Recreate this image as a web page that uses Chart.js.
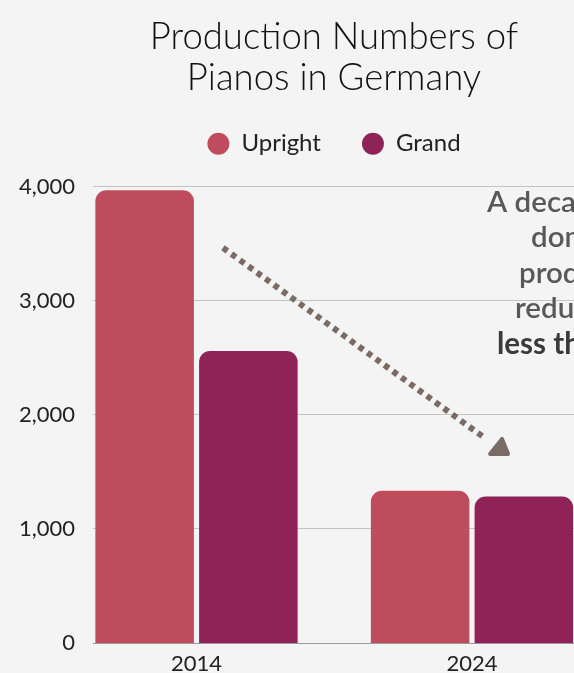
<!DOCTYPE html>
<html>
<head>
<meta charset="utf-8">
<script src="https://cdn.jsdelivr.net/npm/chart.js@4.4.1/dist/chart.umd.min.js"></script>
<style>
    html, body { margin: 0; padding: 0; background: #f4f4f4; overflow: hidden; }
    #wrap { width: 668px; height: 690px; }
</style>
</head>
<body>
<div id="wrap"><canvas id="pianoChart" width="668" height="690"></canvas></div>
<script>
const years = ["2014", "2024"];
const upright = [3970, 1335];
const grand = [2560, 1285];
const yMax = 4000;
const yStep = 1000;
const noteLines = ["A decade of", "domestic", "production", "reduced to", "less than half"];

const FONT = "Lato, 'Open Sans', sans-serif";

// dotted trend arrow + side note
const notePlugin = {
    id: "note",
    afterDatasetsDraw(chart) {
        const ctx = chart.ctx;
        const x = chart.scales.x, y = chart.scales.y;
        const x0 = x.getPixelForValue(0.096), y0 = y.getPixelForValue(3465);
        const x1 = x.getPixelForValue(1.051), y1 = y.getPixelForValue(1789);

        ctx.save();
        ctx.strokeStyle = "#7b6b65";
        ctx.fillStyle = "#7b6b65";
        ctx.lineWidth = 6;
        ctx.setLineDash([5.5, 5]);
        ctx.beginPath();
        ctx.moveTo(x0, y0);
        ctx.lineTo(x1, y1);
        ctx.stroke();

        // arrow head
        ctx.setLineDash([]);
        ctx.lineWidth = 4;
        ctx.lineJoin = "round";
        const hx = x1 + 13, hy = y1 + 10;
        ctx.beginPath();
        ctx.moveTo(hx + 3, hy - 10);
        ctx.lineTo(hx - 9, hy + 5);
        ctx.lineTo(hx + 9, hy + 5);
        ctx.closePath();
        ctx.fill();
        ctx.stroke();

        // note text
        const xs = [487, 531, 519, 515, 497];
        const top = chart.chartArea.top;
        ctx.textAlign = "left";
        ctx.textBaseline = "alphabetic";
        noteLines.forEach((line, i) => {
            const last = i === noteLines.length - 1;
            ctx.font = (last ? "bold " : "600 ") + "29.5px " + FONT;
            ctx.fillStyle = last ? "#3a3a3a" : "#585858";
            ctx.fillText(line, xs[i], top + 25 + i * 35.5);
        });
        ctx.restore();
    }
};

new Chart(document.getElementById("pianoChart").getContext("2d"), {
    type: "bar",
    data: {
        datasets: [{
            label: "Upright",
            data: upright.map((v, i) => ({ x: i, y: v })),
            backgroundColor: "#be4c5d",
            borderWidth: 0,
            borderRadius: { topLeft: 11, topRight: 11, bottomLeft: 0, bottomRight: 0 },
            borderSkipped: false,
            categoryPercentage: 0.753,
            barPercentage: 0.95
        }, {
            label: "Grand",
            data: grand.map((v, i) => ({ x: i, y: v })),
            backgroundColor: "#8f2257",
            borderWidth: 0,
            borderRadius: { topLeft: 11, topRight: 11, bottomLeft: 0, bottomRight: 0 },
            borderSkipped: false,
            categoryPercentage: 0.753,
            barPercentage: 0.95
        }]
    },
    options: {
        responsive: false,
        animation: false,
        layout: { padding: 0 },
        plugins: {
            title: {
                display: true,
                text: ["Production Numbers of", "Pianos in Germany"],
                color: "#111111",
                font: { family: FONT, size: 36.5, weight: "300", lineHeight: 1.12 },
                padding: { top: 16.5, bottom: -7.5 }
            },
            legend: {
                labels: {
                    usePointStyle: true,
                    pointStyle: "circle",
                    boxWidth: 22,
                    boxHeight: 15.5,
                    padding: 41,
                    color: "#222222",
                    font: { family: FONT, size: 24 }
                }
            },
            tooltip: { enabled: false }
        },
        scales: {
            x: {
                type: "linear",
                offset: false,
                min: -0.3757,
                max: 1.3757,
                afterBuildTicks: (s) => { s.ticks = years.map((_, i) => ({ value: i })); },
                afterFit: (s) => { s.height = 47; },
                grid: { display: false },
                border: { display: true, color: "#9a9a9a", width: 1 },
                ticks: {
                    padding: 0,
                    color: "#222222",
                    font: { family: FONT, size: 22 },
                    callback: (v) => years[v]
                }
            },
            // spacer below the legend
            gapTop: {
                type: "linear",
                position: "top",
                afterFit: (s) => { s.height = 21; },
                grid: { display: false },
                border: { display: false },
                ticks: { display: false }
            },
            // spacer for the note on the right
            gapRight: {
                type: "linear",
                position: "right",
                afterFit: (s) => { s.width = 92.5; },
                grid: { display: false },
                border: { display: false },
                ticks: { display: false }
            },
            y: {
                min: 0,
                max: yMax,
                afterFit: (s) => { s.width = 93; },
                grid: { color: "#c4c4c4", lineWidth: 1, drawTicks: false },
                border: { display: false },
                ticks: {
                    stepSize: yStep,
                    padding: 18,
                    color: "#222222",
                    font: { family: FONT, size: 22 },
                    callback: (v) => v.toLocaleString("en-US")
                }
            }
        }
    },
    plugins: [notePlugin]
});
</script>
</body>
</html>
